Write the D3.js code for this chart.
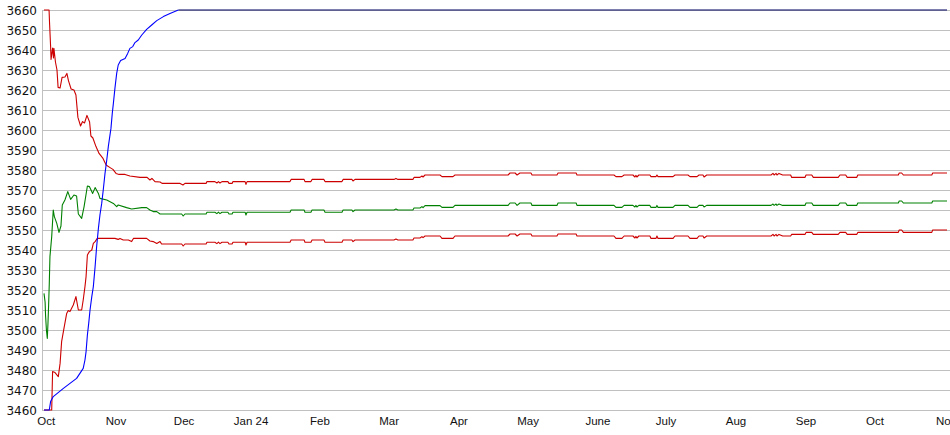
<!DOCTYPE html>
<html><head><meta charset="utf-8">
<script src="https://cdn.jsdelivr.net/npm/d3@7"></script>
<style>html,body{margin:0;padding:0;background:#fff;overflow:hidden;} svg{display:block;}</style>
</head><body><svg id="c" width="950" height="435"></svg>
<script>
// ---- data ----
const yTickValues = [3460,3470,3480,3490,3500,3510,3520,3530,3540,3550,3560,3570,3580,3590,3600,3610,3620,3630,3640,3650,3660];
const monthLabels = ["Oct","Nov","Dec","Jan 24","Feb","Mar","Apr","May","June","July","Aug","Sep","Oct","Nov"];
const monthPositions = [1.0,32.7,63.6,94.0,125.3,156.7,188.4,219.8,251.5,282.4,314.2,346.0,377.3,409.6];

const blueData = [[0,3460],[2.4,3460],[3.0,3464.2],[4.2,3466.7],[8.8,3470.8],[14.8,3475.8],[17.8,3480.8],[18.6,3485],[19.1,3489.2],[19.7,3497.5],[20.3,3503.3],[20.9,3510],[21.7,3516.7],[22.4,3521.7],[23.2,3531.7],[23.9,3541.7],[24.7,3550.8],[25.4,3557.5],[26.2,3563.3],[26.9,3570],[27.7,3578.3],[28.5,3585],[29.2,3591.7],[30.4,3600.8],[31.0,3608.3],[31.5,3613.3],[32.2,3620.8],[33.0,3628.3],[33.7,3632.5],[34.8,3634.7],[36.8,3635.8],[38.0,3638.3],[39.0,3640.8],[40.3,3641.7],[41.3,3643.7],[42.8,3645],[44.4,3647.5],[46.6,3650.3],[48.9,3652.5],[51.2,3654.7],[54.2,3656.7],[57.2,3658.3],[61.0,3660]];
const capData = [[61.0,3660],[410,3660]];

const red1Early = [[0,3660],[2.3,3660],[2.5,3654],[3.0,3641.7],[3.2,3635.3],[3.9,3641],[4.3,3636],[4.5,3640.8],[5.2,3634],[5.9,3630],[6.4,3621.3],[7.3,3621],[8.2,3626.3],[9.5,3626.5],[10.4,3628.3],[11.1,3624.7],[12.3,3620.5],[13.6,3620],[14.5,3617.5],[15.4,3606.3],[16.6,3602],[17.5,3604.2],[18.4,3603.5],[19.5,3607.3],[20.7,3604],[21.3,3597],[22.2,3596],[23.6,3591.7],[25.0,3588.3],[26.8,3585.8],[28.2,3582.5],[30.0,3581.2],[31.3,3580.3],[32.7,3578.3],[34.1,3577.8],[36.8,3577.8],[39.0,3577],[43.6,3576.3],[46.8,3576.3],[48.1,3575],[49.0,3575.8],[50.4,3574.2],[52.7,3574],[53.6,3573.3],[61.8,3573.3],[63.1,3572.5]];
const greenEarly = [[0,3518.3],[0.5,3514],[0.7,3507.5],[1.1,3500],[1.5,3495.8],[1.8,3503.3],[2.1,3512.5],[2.4,3523.3],[2.7,3536.7],[3.5,3546.7],[4.2,3560],[4.7,3556.7],[5.8,3553.3],[6.8,3548.8],[7.7,3552],[8.3,3562.5],[9.5,3565],[10.8,3569.2],[12.1,3565.3],[13.6,3567.5],[14.8,3567],[15.6,3558],[17.1,3555.8],[18.2,3561.7],[19.7,3572],[20.6,3571.7],[22.1,3568.3],[23.2,3571.2],[24.7,3568.3],[25.4,3565.8],[28.5,3565],[31.5,3563.3],[33.0,3561.7],[33.7,3562.5],[37.5,3561.2],[39.8,3560.5],[44.4,3561.2],[46.6,3561.2],[48.1,3560],[49.6,3559.2],[51.2,3559.2],[52.7,3558],[62.5,3558],[63.2,3557]];
const red2Early = [[0,3460],[3.5,3460],[3.9,3479.2],[5.0,3478.7],[6.5,3476.7],[7.3,3483.3],[8.0,3494.2],[8.8,3499.2],[10.3,3508.3],[11.0,3509.7],[11.8,3509.2],[13.3,3512.5],[14.5,3516.7],[15.6,3510],[17.1,3510],[17.8,3515],[18.6,3521.7],[19.1,3526.7],[19.7,3537.5],[20.6,3539.2],[21.7,3540],[22.4,3543.3],[23.2,3544.2],[24.2,3545.8],[26.9,3545.8],[32.2,3545.8],[33.7,3545.3],[34.5,3545.8],[36.0,3545],[38.3,3545],[39.8,3544.2],[40.6,3545.8],[46.6,3545.8],[48.1,3544.5],[49.6,3544.2],[51.2,3543.3],[52.7,3544.2],[53.4,3543],[62.5,3543],[63.2,3542]];

const lateDays  = [64.0,73.6,74.0,77.6,78.5,79.2,79.9,80.8,83.5,84.0,85.4,85.8,91.3,91.7,92.2,111.7,112.2,118.1,118.5,121.2,121.7,127.1,127.6,135.3,135.8,139.8,140.3,141.2,158.9,159.8,160.7,167.5,168.0,170.7,171.6,172.1,173.0,179.8,180.7,185.7,186.6,210.7,211.6,213.9,214.8,216.1,221.1,221.6,232.9,233.4,241.6,242.0,258.8,259.7,262.4,263.4,267.4,268.3,268.8,269.2,270.1,275.1,275.6,277.9,278.3,278.8,285.6,286.5,292.4,293.3,296.5,297.4,299.2,299.7,300.9,330.1,331.0,331.5,332.4,332.8,333.7,335.4,339.0,339.5,345.5,346.0,348.6,349.3,360.6,361.4,364.0,364.7,369.0,369.5,387.9,388.3,389.4,390.2,403.1,403.5,410.0];
const red1Late  = [3573.3,3573.3,3574.2,3574.2,3573.5,3574.2,3573.5,3574.2,3574.2,3573.3,3573.3,3574.2,3574.2,3572.8,3574.2,3574.2,3575.3,3575.3,3574.2,3574.2,3575.3,3575.3,3574.2,3574.2,3575.3,3575.3,3574.5,3575.3,3575.3,3575.8,3575.3,3575.3,3576.3,3576.3,3577,3576.5,3577.5,3577.5,3576.7,3576.7,3577.5,3577.5,3578.5,3578.5,3577.5,3578.5,3578.5,3577.5,3577.5,3578.5,3578.5,3577.5,3577.5,3576.7,3576.7,3577.5,3577.5,3576.5,3577.3,3576.5,3577.5,3577.5,3576.7,3576.7,3577.5,3576.7,3576.7,3577.5,3577.5,3576.7,3576.7,3577.5,3577.5,3576.5,3577.5,3577.5,3578.3,3577.5,3578.3,3577.5,3578.3,3577.5,3577.5,3576.3,3576.3,3577.5,3577.5,3576.3,3576.3,3577.5,3577.5,3576.3,3576.3,3577.5,3577.5,3578.5,3578.5,3577.5,3577.5,3578.5,3578.5];
const greenLate = [3558,3558,3558.9,3558.9,3558.2,3558.9,3558.2,3558.9,3558.9,3558,3558,3558.9,3558.9,3557.5,3558.9,3558.9,3560,3560,3558.9,3558.9,3560,3560,3558.9,3558.9,3560,3560,3559.2,3560,3560,3560.5,3560,3560,3561,3561,3561.7,3561.2,3562.2,3562.2,3561.3,3561.3,3562.3,3562.3,3563.5,3563.5,3562.3,3563.5,3563.5,3562.3,3562.3,3563.5,3563.5,3562.3,3562.3,3561.3,3561.3,3562.3,3562.3,3561.5,3562.3,3561.5,3562.3,3562.3,3561.3,3561.3,3562.3,3561.3,3561.3,3562.3,3562.3,3561.3,3561.3,3562.3,3562.3,3561.5,3562.3,3562.3,3563,3562.3,3563,3562.3,3563,3562.3,3562.3,3562.3,3562.3,3563.5,3563.5,3562.3,3562.3,3563.5,3563.5,3562.3,3562.3,3563.5,3563.5,3564.5,3564.5,3563.5,3563.5,3564.5,3564.5];
const red2Late  = [3543,3543,3543.9,3543.9,3543.2,3543.9,3543.2,3543.9,3543.9,3543,3543,3543.9,3543.9,3542.5,3543.9,3543.9,3545,3545,3543.9,3543.9,3545,3545,3543.9,3543.9,3545,3545,3544.2,3545,3545,3545.5,3545,3545,3546,3546,3546.7,3546.2,3547,3547,3545.8,3545.8,3547,3547,3548,3548,3547,3548,3548,3547,3547,3548,3548,3547,3547,3545.8,3545.8,3547,3547,3546,3546.8,3546,3547,3547,3545.8,3545.8,3547,3545.8,3545.8,3547,3547,3545.8,3545.8,3547,3547,3546,3547,3547,3547.8,3547,3547.8,3547,3547.8,3547,3547,3547.8,3547.8,3548.8,3548.8,3547.8,3547.8,3548.8,3548.8,3547.8,3547.8,3548.8,3548.8,3550,3550,3548.8,3548.8,3550,3550];

// ---- build ----
const svg = d3.select("#c");
const x = d3.scaleLinear().domain([0, 410]).range([44, 947]);
const y = d3.scaleLinear().domain([3460, 3660]).range([410, 10]);

const late = vals => lateDays.map((d, i) => [d, vals[i]]);
const series = [
  {data: red2Early.concat(late(red2Late)), color: "#cc0000"},
  {data: greenEarly.concat(late(greenLate)), color: "#008000"},
  {data: red1Early.concat(late(red1Late)), color: "#cc0000"},
  {data: capData, color: "#000060"},
  {data: blueData, color: "#0000ff"}
];

// gridlines
svg.append("g").selectAll("line").data(yTickValues).join("line")
  .attr("x1", 42).attr("x2", 950)
  .attr("y1", d => Math.round(y(d)) + 0.5).attr("y2", d => Math.round(y(d)) + 0.5)
  .attr("stroke", "#c0c0c0").attr("stroke-width", 1);
// vertical axis line
svg.append("line").attr("x1", 42.5).attr("x2", 42.5)
  .attr("y1", Math.round(y(3660))).attr("y2", Math.round(y(3460)) + 1)
  .attr("stroke", "#c0c0c0");

// y labels
svg.append("g").selectAll("text").data(yTickValues).join("text")
  .attr("x", 37).attr("y", d => y(d) + 4.5)
  .attr("text-anchor", "end")
  .attr("font-family", "DejaVu Sans, sans-serif").attr("font-size", 12)
  .attr("fill", "#111").text(d => d);

// x labels
svg.append("g").selectAll("text").data(monthLabels).join("text")
  .attr("x", (d, i) => x(monthPositions[i])).attr("y", 425)
  .attr("text-anchor", "middle")
  .attr("font-family", "Liberation Sans, Arial, sans-serif").attr("font-size", 11.5)
  .attr("fill", "#111").text(d => d);

// lines
const line = d3.line().x(d => x(d[0])).y(d => y(d[1]));
svg.append("g").selectAll("path").data(series).join("path")
  .attr("d", s => line(s.data))
  .attr("fill", "none").attr("stroke", s => s.color).attr("stroke-width", 1.1)
  .attr("stroke-linejoin", "round");
</script>
</body></html>
